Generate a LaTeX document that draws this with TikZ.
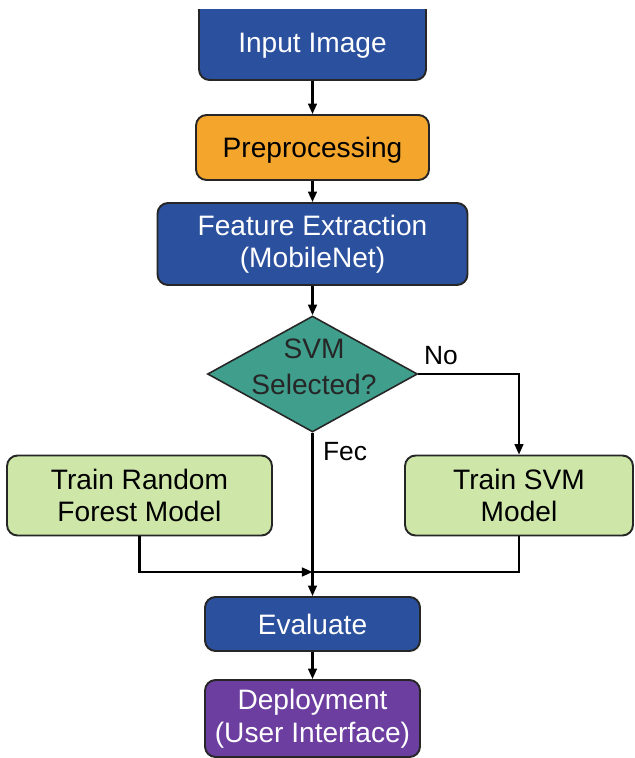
\documentclass[tikz,border=0pt]{standalone}
\usepackage{fontspec}
\setmainfont{Liberation Sans}
\usetikzlibrary{shapes.geometric,arrows.meta}

\definecolor{stepblue}{RGB}{43,80,158}
\definecolor{steporange}{RGB}{244,166,44}
\definecolor{stepteal}{RGB}{64,158,140}
\definecolor{stepgreen}{RGB}{206,230,168}
\definecolor{steppurple}{RGB}{108,62,160}

\begin{document}
\begin{tikzpicture}[x=0.02cm,y=-0.02cm,
		box/.style={draw=black!85,line width=1.1pt,rounded corners=6pt,align=center,inner sep=0pt,font=\fontsize{16}{18.5}\selectfont},
		bluebox/.style={box,fill=stepblue,text=white},
		orangebox/.style={box,fill=steporange,text=black},
		greenbox/.style={box,fill=stepgreen,text=black},
		purplebox/.style={box,fill=steppurple,text=white},
		decision/.style={diamond,draw=black!85,line width=0.9pt,fill=stepteal,inner sep=0pt},
		boxtext/.style={align=center,inner sep=0pt,font=\fontsize{16}{20.5}\selectfont},
		lbl/.style={inner sep=0pt,font=\fontsize{15}{17}\selectfont},
		arr/.style={line width=1.2pt,-{Triangle[length=6pt,width=5pt]}},
		ln/.style={line width=1.2pt}]
		\useasboundingbox (0,0) rectangle (635,758);
		\begin{scope}
			\clip (0,9) rectangle (635,758);
			\node[bluebox,minimum width=4.54cm,minimum height=2.2cm] (input) at (312.5,25) {};
		\end{scope}
		\node[boxtext,text=white] (inputtext) at (312.5,46) {Input Image};
		\node[orangebox,text depth=0pt,minimum width=4.66cm,minimum height=1.3cm] (prep) at (312.5,147.5) {Preprocessing};
		\node[bluebox,minimum width=6.2cm,minimum height=1.64cm] (feat) at (312.5,244) {Feature Extraction\\(MobileNet)};
		\node[decision,minimum width=4.2cm,minimum height=2.32cm] (dec) at (312.5,374) {};
		\node[boxtext,text=black!85] (dectext) at (314,367) {SVM\\Selected?};
		\node[greenbox,minimum width=5.3cm,minimum height=1.6cm] (rf) at (139.5,495.5) {Train Random\\Forest Model};
		\node[greenbox,minimum width=4.56cm,minimum height=1.6cm] (svm) at (519,495.5) {Train SVM\\Model};
		\node[bluebox,text depth=0pt,minimum width=4.3cm,minimum height=1.08cm] (eval) at (312.5,624) {Evaluate};
		\node[purplebox,minimum width=4.3cm,minimum height=1.54cm] (deploy) at (312.5,718.5) {Deployment\\(User Interface)};
		\coordinate (join) at (312.5,572);
		\node[lbl] (no) at (441,356) {No};
		\node[lbl] (fec) at (345,452) {Fec};
		\draw[arr] (input) -- (prep);
		\draw[arr] (prep) -- (feat);
		\draw[arr] (feat) -- (dec);
		\draw[arr] (dec.east) -| (svm.north);
		\draw[arr] (dec.south) -- (eval.north);
		\draw[arr] (rf.south) |- (join);
		\draw[ln] (svm.south) |- (join);
		\draw[arr] (eval) -- (deploy);
\end{tikzpicture}
\end{document}
